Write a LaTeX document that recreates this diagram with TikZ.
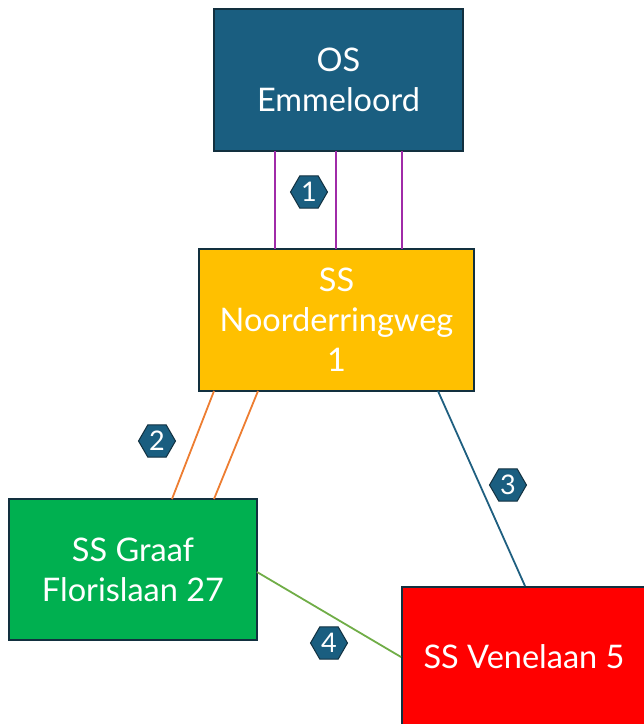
\documentclass[tikz,border=0pt]{standalone}
\usepackage{fontspec}
\setmainfont{Lato}
\usetikzlibrary{shapes.geometric}
\definecolor{osblue}{HTML}{1A5E80}
\definecolor{ssyellow}{HTML}{FFC000}
\definecolor{ssgreen}{HTML}{00B050}
\definecolor{ssred}{HTML}{FF0000}
\definecolor{edge}{HTML}{12303F}
\definecolor{linkpurple}{HTML}{A02BA8}
\definecolor{linkorange}{HTML}{ED7D31}
\definecolor{linkblue}{HTML}{1F5F80}
\definecolor{linkgreen}{HTML}{70AD47}
\tikzset{
  station/.style={draw=edge, line width=2pt, text=white, align=center,
    font=\fontsize{32.5}{40}\selectfont, inner sep=0pt},
  tag/.style={regular polygon, regular polygon sides=6, minimum size=37pt,
    fill=osblue, draw=edge, line width=1pt, text=white, inner sep=0pt,
    font=\fontsize{27}{27}\selectfont},
  link/.style={line width=1.8pt}
}
\begin{document}
\begin{tikzpicture}[x=1pt,y=-1pt]
\useasboundingbox (0,0) rectangle (644,724);
% stations
\node[station, fill=osblue, minimum width=249pt, minimum height=142pt] (os) at (338.5,80) {OS\\Emmeloord};
\node[station, fill=ssyellow, minimum width=275pt, minimum height=142pt] (noord) at (336.5,320) {SS\\Noorderringweg\\1};
\node[station, fill=ssgreen, minimum width=248pt, minimum height=141pt] (graaf) at (133,569.5) {SS Graaf\\Florislaan 27};
\begin{scope}
\clip (0,0) rectangle (644,724);
\node[station, fill=ssred, minimum width=246pt, minimum height=142pt, anchor=north west] (vene) at (401,586) {};
\end{scope}
\node[text=white, font=\fontsize{32.5}{40}\selectfont] (venetext) at (524,657) {SS Venelaan 5};
% connections
\coordinate (p1a) at (275,151); \coordinate (p1b) at (275,249);
\coordinate (p2a) at (336,151); \coordinate (p2b) at (336,249);
\coordinate (p3a) at (402,151); \coordinate (p3b) at (402,249);
\draw[link, linkpurple] (p1a) -- (p1b);
\draw[link, linkpurple] (p2a) -- (p2b);
\draw[link, linkpurple] (p3a) -- (p3b);
\coordinate (o1a) at (214,391); \coordinate (o1b) at (172,499);
\coordinate (o2a) at (258,391); \coordinate (o2b) at (214,499);
\draw[link, linkorange] (o1a) -- (o1b);
\draw[link, linkorange] (o2a) -- (o2b);
\coordinate (b1a) at (438,391); \coordinate (b1b) at (525,586);
\draw[link, linkblue] (b1a) -- (b1b);
\coordinate (g1a) at (257,572); \coordinate (g1b) at (401,657);
\draw[link, linkgreen] (g1a) -- (g1b);
% link tags
\node[tag] (t1) at (309,192) {1};
\node[tag] (t2) at (157,441) {2};
\node[tag] (t3) at (508,485) {3};
\node[tag] (t4) at (329,643) {4};
\end{tikzpicture}
\end{document}
